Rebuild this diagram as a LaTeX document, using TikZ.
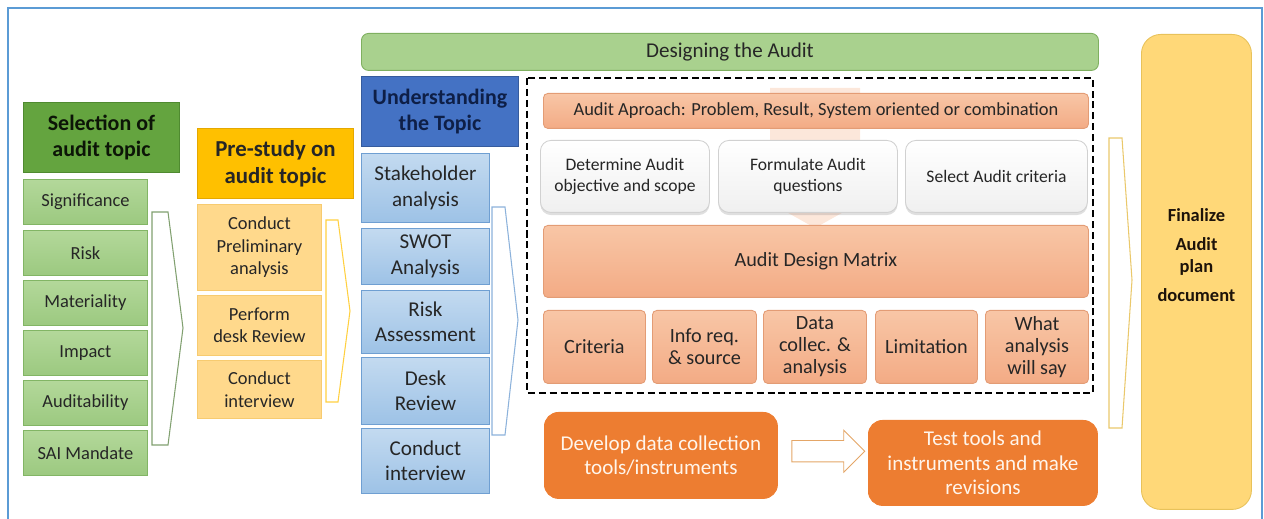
\documentclass[tikz,border=0pt]{standalone}
\usepackage{fontspec}
\setmainfont{Carlito}
\usepackage{tikz}
\usetikzlibrary{shadows,shapes.arrows,calc}

\definecolor{ink}{HTML}{262626}
\definecolor{frameblue}{HTML}{5B9BD5}
\definecolor{selg}{HTML}{64A43F}
\definecolor{selgd}{HTML}{4F8A30}
\definecolor{gitemt}{HTML}{B3D89A}
\definecolor{gitemb}{HTML}{9CC980}
\definecolor{gitemd}{HTML}{82B565}
\definecolor{preo}{HTML}{FFC000}
\definecolor{preod}{HTML}{E5A800}
\definecolor{oitem}{HTML}{FFD98C}
\definecolor{oitemd}{HTML}{F7CB70}
\definecolor{ublue}{HTML}{4472C4}
\definecolor{ubluet}{HTML}{0E1F47}
\definecolor{bitemt}{HTML}{C3DAF0}
\definecolor{bitemb}{HTML}{9DC2E6}
\definecolor{bitemd}{HTML}{6F9FD2}
\definecolor{desg}{HTML}{A9D18E}
\definecolor{desgd}{HTML}{7FB060}
\definecolor{salt}{HTML}{F8C6A6}
\definecolor{salb}{HTML}{F3AB85}
\definecolor{sald}{HTML}{E39C75}
\definecolor{devo}{HTML}{ED7D31}
\definecolor{fin}{HTML}{FFD878}
\definecolor{find}{HTML}{E8C25A}

\begin{document}
\begin{tikzpicture}[x=0.02cm, y=-0.02cm,
    sz/.style 2 args={minimum width=#1*0.02cm, minimum height=#2*0.02cm},
    box/.style={anchor=north west, draw, align=center, inner sep=1pt, text=ink, line width=0.5pt},
    selhead/.style={box, fill=selg, draw=selgd, text=black!85!selgd, font=\bfseries\fontsize{12.5}{15}\selectfont},
    selitem/.style={box, top color=gitemt, bottom color=gitemb, draw=gitemd, font=\fontsize{10.5}{12.5}\selectfont},
    prehead/.style={box, fill=preo, draw=preod, font=\bfseries\fontsize{13}{15.5}\selectfont},
    preitem/.style={box, fill=oitem, draw=oitemd, font=\fontsize{10.5}{12.8}\selectfont},
    uhead/.style={box, fill=ublue, draw=ublue!80!black, text=ubluet, font=\bfseries\fontsize{12.5}{15}\selectfont},
    uitem/.style={box, top color=bitemt, bottom color=bitemb, draw=bitemd, font=\fontsize{12}{14.5}\selectfont},
    salmon/.style={box, top color=salt, bottom color=salb, draw=sald, rounded corners=2.5pt},
    whitebox/.style={box, top color=white, bottom color=black!6, draw=black!18, rounded corners=6pt,
        drop shadow={shadow xshift=0pt, shadow yshift=-1.5pt, opacity=0.25}, font=\fontsize{10}{12}\selectfont},
    devbox/.style={box, fill=devo, draw=devo, text=white!92!orange, rounded corners=8pt, font=\fontsize{12}{14}\selectfont},
    chev/.style={line width=0.6pt, fill=white},
]
\useasboundingbox (0,0) rectangle (1264,519);

% frame
\draw[frameblue, line width=1.4pt] (8,530) -- (8,8) -- (1262,8) -- (1262,530);

% selection of audit topic
\node[selhead, sz={156}{70}] (sel) at (23,102) {Selection of\\audit topic};
\foreach \t/\y [count=\i] in {Significance/179, Risk/230, Materiality/280, Impact/330, Auditability/380, SAI Mandate/430}
    \node[selitem, sz={124}{45}] (sel\i) at (23,\y) {\t};
\draw[chev, draw=gitemd!60!gray] (152,212) -- (168,212) -- (183,328) -- (168,445) -- (152,445) -- cycle;

% pre-study
\node[prehead, sz={156}{70}] (pre) at (197,128) {Pre-study on\\audit topic};
\node[preitem, sz={124}{86}] (pre1) at (197,204) {Conduct\\Preliminary\\analysis};
\node[preitem, sz={124}{60}] (pre2) at (197,295) {Perform\\desk Review};
\node[preitem, sz={124}{58}] (pre3) at (197,360) {Conduct\\interview};
\draw[chev, draw=preo!75] (326,220) -- (338,220) -- (350,311) -- (338,402) -- (326,402) -- cycle;

% understanding the topic
\node[uhead, sz={157}{70}] (und) at (361,76) {Understanding\\the Topic};
\node[uitem, sz={128}{69}] (und1) at (361,153) {Stakeholder\\analysis};
\node[uitem, sz={128}{56}] (und2) at (361,228) {SWOT\\Analysis};
\node[uitem, sz={128}{63}] (und3) at (361,290) {Risk\\Assessment};
\node[uitem, sz={128}{67}] (und4) at (361,357) {Desk\\Review};
\node[uitem, sz={128}{65}] (und5) at (361,428) {Conduct\\interview};
\draw[chev, draw=bitemd!80] (492,207) -- (505,207) -- (518,320) -- (505,435) -- (492,435) -- cycle;

% designing the audit
\node[box, sz={737}{37}, fill=desg, draw=desgd, rounded corners=4pt, font=\fontsize{12}{14}\selectfont] (des) at (361,33) {Designing the Audit};
\draw[black, line width=1.3pt, dash pattern=on 4pt off 2.2pt] (527,78) rectangle (1093,393);

% faint arrow behind
\fill[salt!70, opacity=0.6] (770,88) -- (860,88) -- (860,200) -- (865,200) -- (815,228) -- (765,200) -- (770,200) -- cycle;

\node[salmon, sz={545}{35}, font=\fontsize{10.5}{12}\selectfont] (appr) at (543,93) {Audit Aproach: Problem, Result, System oriented or combination};
\node[whitebox, sz={169}{72}] (obj) at (540,140) {Determine Audit\\objective and scope};
\node[whitebox, sz={179}{72}] (qst) at (718,140) {Formulate Audit\\questions};
\node[whitebox, sz={182}{72}] (crit) at (905,140) {Select Audit criteria};
\node[salmon, sz={545}{72}, font=\fontsize{11.5}{13}\selectfont] (adm) at (543,225) {Audit Design Matrix};

\foreach \t/\x/\w [count=\i] in {Criteria/543/102, Info req.\\\& source/652/104, Data\\collec. \&\\analysis/763/103, Limitation/875/102, What\\analysis\\will say/985/103}
    \node[salmon, sz={\w}{73}, font=\fontsize{11.5}{12.5}\selectfont] (m\i) at (\x,310) {\t};

% tools
\node[devbox, sz={233}{86}] (dev) at (544,412) {Develop data collection\\tools/instruments};
\node[devbox, sz={229}{85}] (test) at (868,420) {Test tools and\\instruments and make\\revisions};
\node[single arrow, draw=brown!60!orange!70, fill=white, line width=0.5pt, minimum height=1.46cm, minimum width=0.84cm,
    inner sep=0.2cm, single arrow head extend=0.2cm] (tarr) at ($(dev.east)!0.5!(test.west)+(0,-8)$) {};

% finalize
\draw[chev, draw=find!90] (1109,138) -- (1122,138) -- (1132,280) -- (1122,428) -- (1109,428) -- cycle;
\node[box, sz={110}{475}, fill=fin, draw=find, rounded corners=11pt, text=black!85!brown,
    font=\bfseries\fontsize{10.5}{12.5}\selectfont] (finl) at (1141,34) {Finalize\\[4pt]Audit\\plan\\[4pt]document\\[7pt]};

\end{tikzpicture}
\end{document}
